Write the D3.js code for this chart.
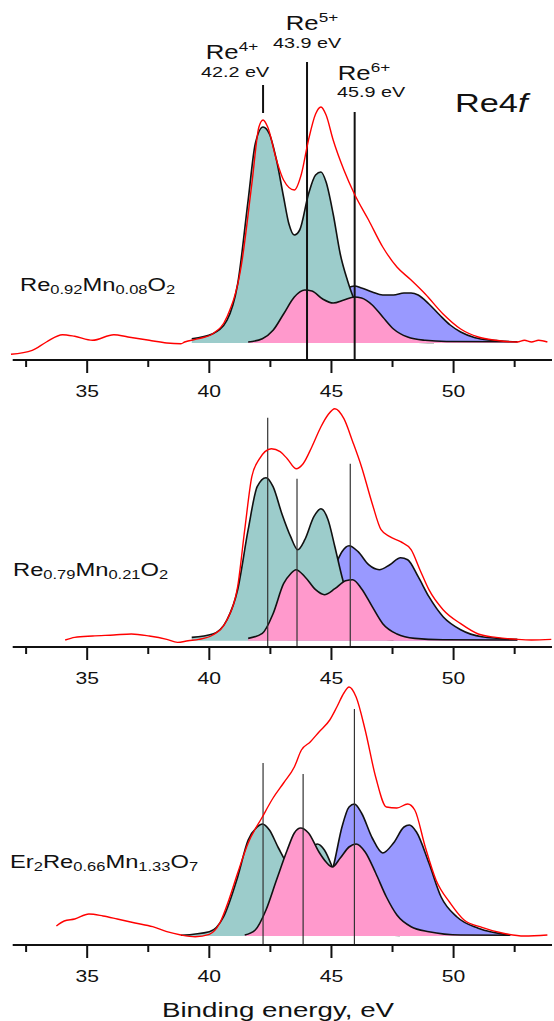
<html lang="en">
<head>
    <meta charset="UTF-8">
    <title>Re4f XPS</title>
    <script src="https://d3js.org/d3.v7.min.js"></script>
    <style>
        body { margin: 0; background: #fff; }
        text { font-family: "Liberation Sans", Arial, sans-serif; fill: #111; }
    </style>
</head>
<body>
<svg width="554" height="1021"></svg>
<script>
// ---- data: [binding energy eV, intensity a.u.] ----
var majorTicks = [35, 40, 45, 50];
var minorTicks = [32.5, 37.5, 42.5, 47.5, 52.5];

// panel 1 : Re0.92Mn0.08O2
var expA = [[31.88,-11.3],[32.75,-7.3],[33.33,1],[33.99,8.3],[34.49,6.7],[35.22,2.7],[36.09,8.3],[36.67,6],[37.54,2.7],[38.26,0],[38.84,-0.7],[38.99,1],[39.57,4.3],[40.14,9.3],[40.72,26],[41.3,76],[41.74,159],[42.03,216],[42.2,223],[42.39,216],[42.75,183],[43.04,163],[43.48,153],[43.77,169],[44.06,203],[44.35,229],[44.57,236],[44.78,228],[45.07,203],[45.51,173],[45.94,149],[46.52,123],[47.1,96],[47.68,76],[48.26,63],[48.84,49],[49.57,29],[50.29,14],[51.01,6],[51.74,2.7],[52.61,1],[52.9,2.7],[53.19,1],[53.48,2.7],[53.84,1]];
var re4A = [[39.28,4.3],[40.14,9.3],[40.72,22.7],[41.16,59],[41.59,143],[41.88,199],[42.2,216],[42.46,209],[42.75,183],[43.04,146],[43.26,119],[43.48,108],[43.7,113],[44.06,149],[44.35,168],[44.57,171],[44.78,161],[45.07,129],[45.36,89],[45.65,63],[45.94,43],[46.52,23],[47.1,11],[47.68,4],[48.4,1],[49.2,0.5]];
var re5A = [[41.59,1],[42.17,4.3],[42.61,12.7],[43.04,29],[43.48,46],[43.91,53],[44.2,52],[44.64,44],[45.07,40],[45.51,43],[45.94,46],[46.23,45],[46.67,38],[47.1,26],[47.54,14],[48.12,6],[48.84,2.7],[49.71,1.5],[52.61,1.2]];
var re6A = [[43.0,2],[43.6,6],[44.2,16],[44.7,32],[45.29,50],[45.65,55],[45.94,57],[46.23,55],[46.67,51],[47.1,48],[47.54,48],[47.97,50],[48.26,50],[48.55,48],[48.99,39],[49.43,28],[49.86,18],[50.29,11],[50.88,5.3],[51.59,2.7],[52.61,1]];
var markA = [42.2, 44.0, 45.95];
var markTopA = [258, 281, 231];
var markLowA = [230, -17, -17];

// panel 2 : Re0.79Mn0.21O2
var expB = [[34.1,0.7],[34.49,3.3],[35.22,4.7],[36.09,5.7],[36.81,6.7],[37.54,4.7],[38.26,1.3],[38.7,-1.7],[39.13,0],[39.57,1.3],[40.14,5.7],[40.72,20.7],[41.16,54],[41.45,111],[41.74,164],[42.03,181],[42.54,192],[42.9,189],[43.19,182],[43.55,172],[43.84,177],[44.2,194],[44.57,214],[44.86,226],[45.14,232],[45.51,222],[45.87,199],[46.23,174],[46.67,137],[47.03,111],[47.39,104],[47.83,99],[48.26,91],[48.62,71],[48.99,51],[49.57,31],[50.29,17],[51.01,6.7],[51.74,3.3],[52.61,1.3],[53.19,0.7],[54.0,1.3]];
var re4B = [[39.28,3.3],[40.14,6.7],[40.72,20.7],[41.16,51],[41.59,111],[41.96,154],[42.32,163],[42.61,154],[42.97,127],[43.33,104],[43.62,91],[43.91,101],[44.28,124],[44.57,132],[44.86,121],[45.14,94],[45.43,64],[45.8,34],[46.23,14],[46.81,4],[47.54,0.7]];
var re5B = [[41.59,2.3],[42.17,7.3],[42.61,27],[43.04,57],[43.33,67],[43.55,71],[43.91,64],[44.35,51],[44.71,46],[45.14,52],[45.58,60],[45.87,61],[46.23,52],[46.67,34],[47.1,17],[47.68,6.7],[48.41,2.3],[49.57,1],[52.61,0.7]];
var re6B = [[43.2,3],[43.8,10],[44.3,25],[44.75,47],[45.14,74],[45.43,89],[45.72,95],[46.09,89],[46.52,76],[46.96,71],[47.39,76],[47.83,83],[48.12,81],[48.55,64],[48.99,44],[49.57,24],[50.29,11],[51.16,4],[52.61,1.3]];
var markB = [42.39, 43.59, 45.77];
var markTopB = [223, 162, 177];

// panel 3 : Er2Re0.66Mn1.33O7
var expC = [[33.74,10],[34.06,15],[34.49,17],[35.07,22],[35.65,20],[36.23,17],[36.96,13],[37.68,9.3],[38.26,4.3],[38.84,1],[39.42,-0.7],[40.0,1.7],[40.43,13],[40.8,36],[41.16,63],[41.59,93],[42.17,119],[42.61,138],[43.04,153],[43.48,169],[43.77,186],[44.13,194],[44.49,204],[44.93,216],[45.22,229],[45.51,243],[45.72,249],[46.01,239],[46.38,206],[46.81,159],[47.25,129],[47.68,128],[48.12,132],[48.41,126],[48.84,89],[49.28,56],[49.86,33],[50.43,16],[51.16,8.7],[52.03,2.7],[52.9,0],[53.84,1]];
var re4C = [[38.84,0.7],[40.0,4.3],[40.58,19],[41.16,59],[41.59,96],[41.96,109],[42.17,112],[42.46,106],[42.83,88],[43.19,73],[43.55,69],[43.91,79],[44.42,92],[44.71,86],[45.0,71],[45.36,46],[45.8,23],[46.38,8],[47.1,2],[47.8,0.5]];
var re5C = [[41.45,1],[41.88,6],[42.32,26],[42.75,56],[43.19,86],[43.48,103],[43.74,108],[44.06,103],[44.49,84],[44.78,74],[45.04,69],[45.36,78],[45.72,89],[46.01,92],[46.38,84],[46.81,63],[47.25,39],[47.68,21],[48.26,9.3],[48.99,4.3],[50.29,1],[52.32,0.7]];
var re6C = [[43.5,5],[44.0,15],[44.5,40],[45.07,69],[45.43,109],[45.72,129],[45.94,132],[46.23,123],[46.67,98],[47.1,83],[47.54,93],[47.97,109],[48.19,111],[48.48,104],[48.99,73],[49.49,39],[50.14,19],[51.01,7.7],[52.32,1]];
var markC = [42.2, 43.84, 45.94];
var markTopC = [173, 162, 227];

var colors = { exp: "#ff0000", re4: "#9ccccb", re5: "#ff99cc", re6: "#9999ff" };

// ---------------------------------------------------------------
var svg = d3.select("svg");
var sx = 1.32; // the original lettering is stretched sideways

var x = d3.scaleLinear().domain([32, 54]).range([13.9, 551.3]);

var panels = [
    { exp: expA, re4: re4A, re5: re5A, re6: re6A, marks: markA, tops: markTopA, lows: markLowA,
      base: 343, axisY: 360, markW: 2, markC: "#111",
      label: [["Re"], ["0.92", 1], ["Mn"], ["0.08", 1], ["O"], ["2", 1]], lx: 20, ly: 291 },
    { exp: expB, re4: re4B, re5: re5B, re6: re6B, marks: markB, tops: markTopB, lows: null,
      base: 640.7, axisY: 647, markW: 1.2, markC: "#333",
      label: [["Re"], ["0.79", 1], ["Mn"], ["0.21", 1], ["O"], ["2", 1]], lx: 13, ly: 576 },
    { exp: expC, re4: re4C, re5: re5C, re6: re6C, marks: markC, tops: markTopC, lows: null,
      base: 936, axisY: 945, markW: 1.2, markC: "#333",
      label: [["Er"], ["2", 1], ["Re"], ["0.66", 1], ["Mn"], ["1.33", 1], ["O"], ["7", 1]], lx: 10, ly: 868 }
];

panels.forEach(function (p) {
    var y = d3.scaleLinear().domain([0, 300]).range([p.base, p.base - 300]);
    var g = svg.append("g");

    var area = d3.area().curve(d3.curveMonotoneX)
        .x(function (d) { return x(d[0]); })
        .y0(y(0))
        .y1(function (d) { return y(d[1]); });
    var line = d3.line().curve(d3.curveMonotoneX)
        .x(function (d) { return x(d[0]); })
        .y(function (d) { return y(d[1]); });

    // components: Re6+ under Re4+ under Re5+
    [["re6", p.re6], ["re4", p.re4], ["re5", p.re5]].forEach(function (c) {
        g.append("path").datum(c[1])
            .attr("d", area)
            .attr("fill", colors[c[0]]);
        g.append("path").datum(c[1])
            .attr("d", line)
            .attr("fill", "none")
            .attr("stroke", "#111")
            .attr("stroke-width", 1.6);
    });

    // oxidation state markers
    g.selectAll(".mark").data(p.marks).enter().append("line")
        .attr("x1", function (d) { return x(d); })
        .attr("x2", function (d) { return x(d); })
        .attr("y1", function (d, i) { return y(p.tops[i]); })
        .attr("y2", function (d, i) { return p.lows ? y(p.lows[i]) : p.axisY; })
        .attr("stroke", p.markC)
        .attr("stroke-width", p.markW);

    // experimental spectrum
    g.append("path").datum(p.exp)
        .attr("d", line)
        .attr("fill", "none")
        .attr("stroke", colors.exp)
        .attr("stroke-width", 1.4);

    // axis
    var ax = g.append("g").attr("transform", "translate(0," + p.axisY + ")");
    ax.append("line").attr("x1", 12.7).attr("x2", 552)
        .attr("stroke", "#111").attr("stroke-width", 2);
    ax.selectAll(".maj").data(majorTicks).enter().append("line")
        .attr("x1", function (d) { return x(d); }).attr("x2", function (d) { return x(d); })
        .attr("y1", 0).attr("y2", 13).attr("stroke", "#111").attr("stroke-width", 2);
    ax.selectAll(".min").data(minorTicks).enter().append("line")
        .attr("x1", function (d) { return x(d); }).attr("x2", function (d) { return x(d); })
        .attr("y1", 0).attr("y2", 7).attr("stroke", "#111").attr("stroke-width", 2);
    ax.selectAll(".tl").data(majorTicks).enter().append("text")
        .attr("transform", function (d) { return "translate(" + x(d) + ",37) scale(" + sx + ",1)"; })
        .attr("text-anchor", "middle")
        .attr("font-size", 16)
        .text(function (d) { return d; });

    // sample name
    var t = g.append("text")
        .attr("transform", "translate(" + p.lx + "," + p.ly + ") scale(" + sx + ",1)")
        .attr("font-size", 18);
    p.label.forEach(function (part, i) {
        var s = t.append("tspan").text(part[0]);
        if (part[1]) s.attr("font-size", 12.5).attr("dy", 3);
        else if (i > 0) s.attr("dy", -3);
    });
});

// state labels (top panel)
function stateLabel(cx, by, sup, ev, ex, ey) {
    var t = svg.append("text")
        .attr("transform", "translate(" + cx + "," + by + ") scale(" + sx + ",1)")
        .attr("text-anchor", "middle").attr("font-size", 19.5);
    t.append("tspan").text("Re");
    t.append("tspan").text(sup).attr("font-size", 13).attr("dy", -8);
    svg.append("text")
        .attr("transform", "translate(" + ex + "," + ey + ") scale(" + sx + ",1)")
        .attr("text-anchor", "middle").attr("font-size", 15).text(ev);
}
stateLabel(232, 59, "4+", "42.2 eV", 235, 77);
stateLabel(312, 30, "5+", "43.9 eV", 307, 48);
stateLabel(364, 80, "6+", "45.9 eV", 371, 97);

var ttl = svg.append("text")
    .attr("transform", "translate(455,112) scale(" + sx + ",1)")
    .attr("font-size", 26);
ttl.append("tspan").text("Re4");
ttl.append("tspan").text("f").attr("font-style", "italic");

svg.append("text")
    .attr("transform", "translate(278,1017) scale(" + sx + ",1)")
    .attr("text-anchor", "middle").attr("font-size", 21)
    .text("Binding energy, eV");
</script>
</body>
</html>
